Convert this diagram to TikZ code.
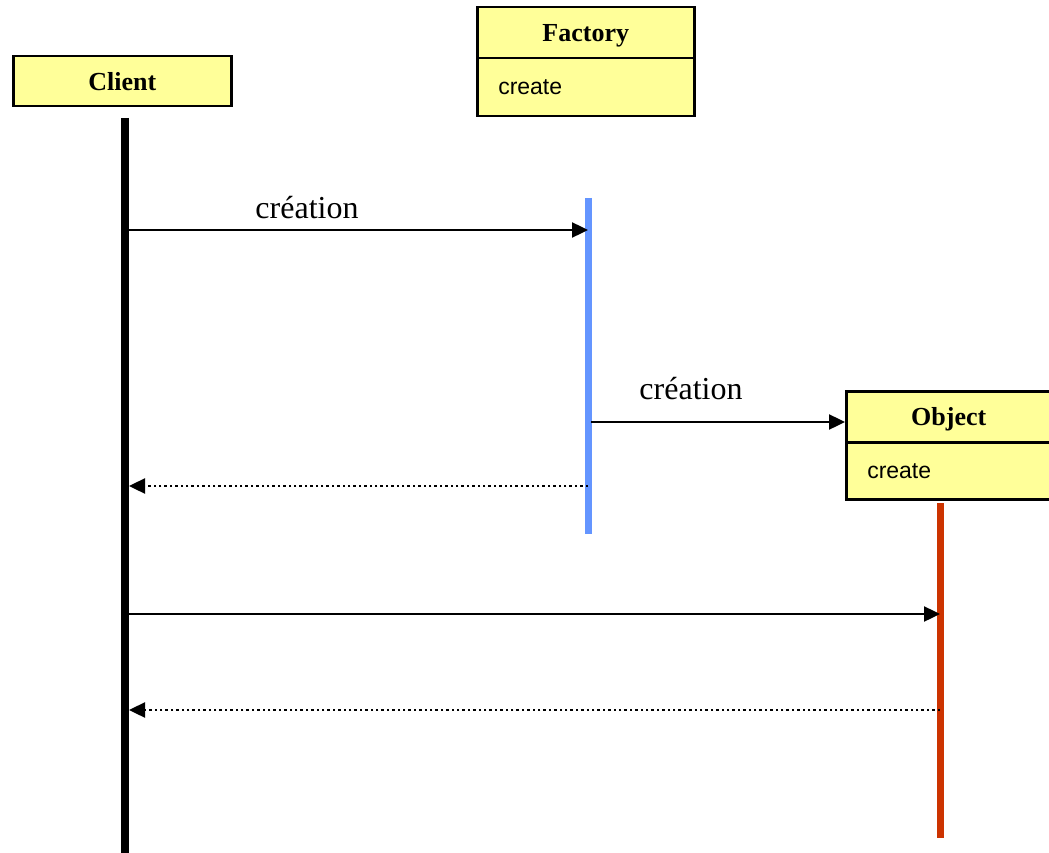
\documentclass[tikz,border=0pt]{standalone}
\usepackage{fontspec}
\setmainfont{Liberation Serif}
\newfontfamily\bodyfont{Liberation Sans}
\usetikzlibrary{arrows.meta}
\definecolor{boxfill}{RGB}{255,255,153}
\definecolor{factorybar}{RGB}{100,149,255}
\definecolor{objectbar}{RGB}{204,51,0}
\tikzset{
  head/.style={draw=black, line width=2.5pt, fill=boxfill, anchor=north west,
    inner sep=0pt, text depth=0pt, text height=18pt,
    font=\fontsize{26}{30}\selectfont\bfseries},
  body/.style={draw=black, line width=2.5pt, fill=boxfill, anchor=north west,
    inner sep=0pt, align=left, text width=#1, font=\bodyfont\fontsize{23}{27}\selectfont},
  lifeline/.style={line width=8pt},
  activation/.style={line width=7pt},
  call/.style={line width=2.4pt, -{Triangle[length=16pt,width=15pt]}},
  reply/.style={line width=2.4pt, dash pattern=on 2.4pt off 3pt, -{Triangle[length=16pt,width=15pt]}},
  msg/.style={font=\fontsize{32}{36}\selectfont}
}
\begin{document}
\begin{tikzpicture}[x=1pt,y=-1pt]
\useasboundingbox (0,0) rectangle (1049,853);
\fill[white] (0,0) rectangle (1049,853);

% Client
\node[head, minimum width=218pt, minimum height=50pt] (client) at (12,55) {Client};

% Factory class box
\node[head, minimum width=217pt, minimum height=51pt] (factory) at (476,6) {Factory};
\node[body=175pt, minimum width=217pt, minimum height=58pt] (factoryops) at (476,57)
  {\raisebox{-3pt}{create}};

% Object class box (runs past the right edge)
\node[head, minimum width=208pt, minimum height=51pt, xshift=0pt] (object) at (845,390) {\hspace*{-3pt}Object};
\node[body=166pt, minimum width=208pt, minimum height=57pt] (objectops) at (845,441)
  {\raisebox{-3pt}{create}};

% Lifelines and activation bars
\coordinate (cTop) at (125,118);
\coordinate (cBot) at (125,853);
\draw[lifeline] (cTop) -- (cBot);
\coordinate (fTop) at (588,198);
\coordinate (fBot) at (588,534);
\draw[activation, factorybar] (fTop) -- (fBot);
\coordinate (oTop) at (940,503);
\coordinate (oBot) at (940,838);
\draw[activation, objectbar] (oTop) -- (oBot);

% Message endpoints
\coordinate (m1s) at (129,230);
\coordinate (m1e) at (588,230);
\coordinate (m2s) at (591,422);
\coordinate (m2e) at (objectops.north west |- 0,422);
\coordinate (r1s) at (588,486);
\coordinate (r1e) at (129,486);
\coordinate (m3s) at (129,614);
\coordinate (m3e) at (940,614);
\coordinate (r2s) at (940,710);
\coordinate (r2e) at (129,710);

\draw[call] (m1s) -- (m1e);
\node[msg] (l1) at (307,208) {création};
\draw[call] (m2s) -- (m2e);
\node[msg] (l2) at (691,389) {création};
\draw[reply] (r1s) -- (r1e);
\draw[call] (m3s) -- (m3e);
\draw[reply] (r2s) -- (r2e);
\end{tikzpicture}
\end{document}
